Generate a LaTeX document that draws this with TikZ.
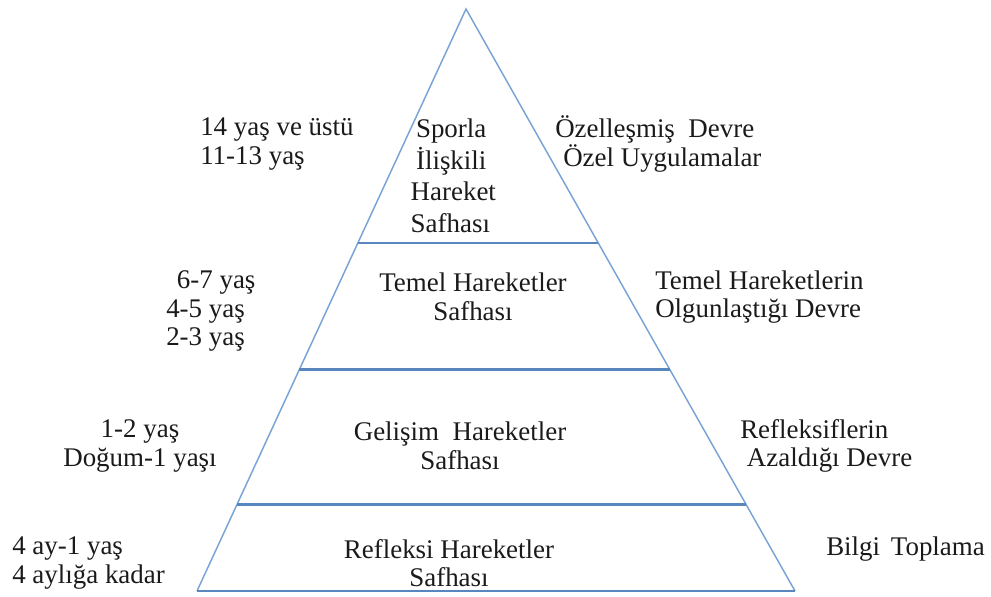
\documentclass[tikz,border=0pt]{standalone}
\usepackage{fontspec}
\setmainfont{Liberation Serif}
\usepackage{tikz}
\usetikzlibrary{calc,positioning}
\definecolor{Edge}{HTML}{78A3D6}
\definecolor{Shelf}{HTML}{5A86C0}
\definecolor{Ink}{HTML}{1A1A1A}
\tikzset{
  edgeline/.style={draw=Edge, line width=1.1pt, line join=miter},
  shelfline/.style={draw=Shelf, line width=2.1pt},
  stagetext/.style={font=\fontsize{20.2}{21.5}\selectfont, text=Ink, align=center, inner sep=0pt},
  sidetext/.style={font=\fontsize{20.2}{21.5}\selectfont, text=Ink, align=left, inner sep=0pt, anchor=west},
}

\begin{document}
\begin{tikzpicture}[x=0.75pt,y=-0.75pt]
\path[use as bounding box] (0,0) rectangle (991,596);

% pyramid outline
\coordinate (apex) at (466,9);
\coordinate (baseL) at (197,591);
\coordinate (baseR) at (795,591);
\draw[edgeline] (baseL) -- (apex) -- (baseR);
\draw[shelfline] (baseL) -- (baseR);

% shelves between the phases
\coordinate (s1L) at ($(apex)!0.402!(baseL)$);
\coordinate (s1R) at ($(apex)!0.402!(baseR)$);
\coordinate (s2L) at ($(apex)!0.619!(baseL)$);
\coordinate (s2R) at ($(apex)!0.619!(baseR)$);
\coordinate (s3L) at ($(apex)!0.852!(baseL)$);
\coordinate (s3R) at ($(apex)!0.852!(baseR)$);
\draw[shelfline] (s1L) -- (s1R);
\draw[shelfline] (s2L) -- (s2R);
\draw[shelfline] (s3L) -- (s3R);

% phase names inside the pyramid
\node[stagetext,align=left,font=\fontsize{20.2}{24}\selectfont] (sport) at (456,176) {Sporla\\İlişkili\\[-1pt]\hspace{-4pt}Hareket\\\hspace{-4pt}Safhası};
\node[stagetext] (basic) at (473,297) {Temel Hareketler\\Safhası};
\node[stagetext] (devel) at (460,446) {Gelişim\ \ Hareketler\\Safhası};
\node[stagetext] (reflex) at (449,563) {Refleksi Hareketler\\Safhası};

% ages on the left
\node[sidetext] (age4) at (200,144) {14 yaş ve üstü\\11-13 yaş};
\node[sidetext] (age3) at (166,311) {\hspace{8pt}6-7 yaş\\4-5 yaş\\2-3 yaş};
\node[stagetext] (age2) at (140,446) {1-2 yaş\\Doğum-1 yaşı};
\node[sidetext] (age1) at (12,563) {4 ay-1 yaş\\4 aylığa kadar};

% periods on the right
\node[sidetext] (per4) at (555,144) {Özelleşmiş\ \ Devre\\\hspace{6pt}Özel Uygulamalar};
\node[sidetext] (per3) at (655,297) {Temel Hareketlerin\\Olgunlaştığı Devre};
\node[sidetext] (per2) at (740,446) {Refleksiflerin\\\hspace{5pt}Azaldığı Devre};
\node[sidetext] (per1) at (826,549) {Bilgi\hspace{0.4em}Toplama};
\end{tikzpicture}
\end{document}
